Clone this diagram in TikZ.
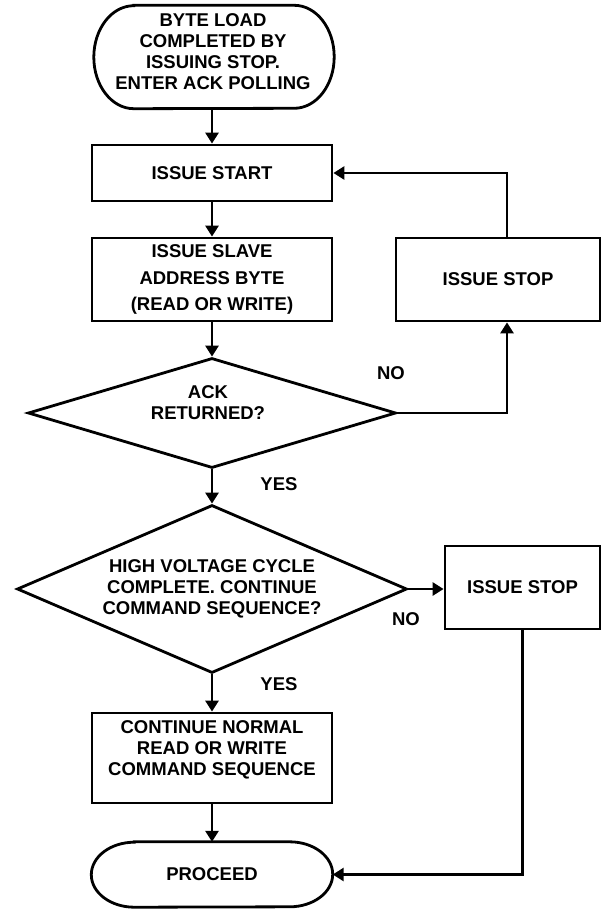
\documentclass[tikz,border=0pt]{standalone}
\usepackage{fontspec}
\setmainfont{Liberation Sans}
\usetikzlibrary{shapes.geometric,arrows.meta}
\begin{document}
\begin{tikzpicture}[x=1pt,y=-1pt,
  every node/.style={font=\bfseries\fontsize{18.5}{21}\selectfont, inner sep=0pt},
  ln/.style={line width=2.8pt},
  arr/.style={ln,-{Triangle[length=11pt,width=13pt]}},
  box/.style={draw,ln,rectangle},
  dia/.style={draw,ln,diamond},
  txt/.style={align=center}
]
\useasboundingbox (0,0) rectangle (602,909);

% top terminator
\node[minimum width=240pt, minimum height=103pt] (t1) at (214,57) {};
\draw[ln] ([xshift=40pt]t1.north west) -- ([xshift=-40pt]t1.north east)
  arc[start angle=90,end angle=-90,x radius=40pt,y radius=51.5pt]
  -- ([xshift=40pt]t1.south west)
  arc[start angle=270,end angle=90,x radius=40pt,y radius=51.5pt] -- cycle;
\node[txt] (t1t) at (213,52) {BYTE LOAD\\COMPLETED BY\\ISSUING STOP.\\ENTER ACK POLLING};

\node[box, minimum width=240pt, minimum height=56pt] (start) at (212,173) {ISSUE START};
\node[box, minimum width=240pt, minimum height=83pt, align=center,
      font=\bfseries\fontsize{18.5}{26.5}\selectfont] (slave) at (212,279.5)
      {ISSUE SLAVE\\ADDRESS BYTE\\(READ OR WRITE)};
\node[box, minimum width=204pt, minimum height=83pt] (stop1) at (498,279.5) {ISSUE STOP};

\node[dia, minimum width=368pt, minimum height=110pt] (d1) at (212,413) {};
\node[txt] (d1t) at (208,402.5) {ACK\\RETURNED?};

\node[dia, minimum width=390pt, minimum height=168pt] (d2) at (212,589) {};
\node[txt] (d2t) at (212,589) {HIGH VOLTAGE CYCLE\\COMPLETE. CONTINUE\\COMMAND SEQUENCE?};

\node[box, minimum width=155pt, minimum height=83pt] (stop2) at (522.5,587.5) {ISSUE STOP};

\node[box, minimum width=240pt, minimum height=90pt] (cont) at (212,758) {};
\node[txt] (contt) at (212,750) {CONTINUE NORMAL\\READ OR WRITE\\COMMAND SEQUENCE};

% proceed terminator
\node[minimum width=241pt, minimum height=65pt] (pr) at (212,874.5) {PROCEED};
\draw[ln] ([xshift=43pt]pr.north west) -- ([xshift=-43pt]pr.north east)
  arc[start angle=90,end angle=-90,x radius=43pt,y radius=32.5pt]
  -- ([xshift=43pt]pr.south west)
  arc[start angle=270,end angle=90,x radius=43pt,y radius=32.5pt] -- cycle;

% labels
\node (no1) at (391,373) {NO};
\node (yes1) at (279,484) {YES};
\node (no2) at (406,619) {NO};
\node (yes2) at (279,684) {YES};

% connectors
\draw[arr] (start.north |- t1.south) -- (start.north);
\draw[arr] (start.south) -- (slave.north);
\draw[arr] (slave.south) -- (d1.north);
\draw[arr] (d1.east) -| ([xshift=9pt]stop1.south);
\draw[arr] ([xshift=9pt]stop1.north) |- (start.east);
\draw[arr] (d1.south) -- (d2.north);
\draw[arr] (d2.east) -- (d2.east -| stop2.west);
\draw[arr] (d2.south) -- (cont.north);
\draw[arr] (cont.south) -- (pr.north);
\draw[arr] (stop2.south) |- (pr.east);
\end{tikzpicture}
\end{document}
